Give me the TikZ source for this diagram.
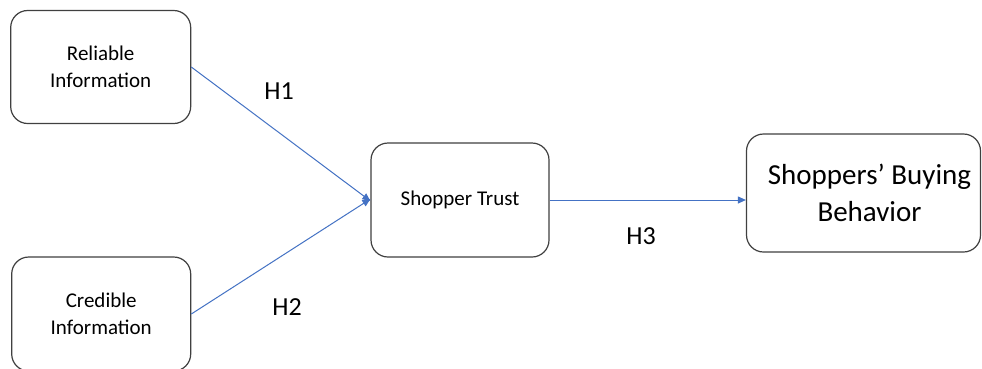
\documentclass[tikz,border=0pt]{standalone}
\usepackage{fontspec}
\setmainfont{Carlito}
\usetikzlibrary{arrows.meta}
\definecolor{arrowblue}{HTML}{4472C4}
\definecolor{boxline}{HTML}{404040}
\tikzset{
  box/.style={draw=boxline, line width=1.2pt, rounded corners=17pt, inner sep=0pt,
    align=center, fill=white},
  smalltext/.style={font=\fontsize{21}{26.5}\selectfont},
  bigtext/.style={font=\fontsize{29}{37}\selectfont},
  hlabel/.style={font=\fontsize{26}{30}\selectfont, inner sep=0pt},
  link/.style={draw=arrowblue, line width=1pt, -{Triangle[length=8pt,width=7pt]}}
}
\begin{document}
\begin{tikzpicture}[x=1pt,y=-1pt]
\useasboundingbox (0,0) rectangle (982,368);
\clip (0,0) rectangle (982,368);
\fill[white] (0,0) rectangle (982,368);
\node[box, smalltext, minimum width=180pt, minimum height=113pt] (rel) at (100.7,67) {Reliable\\Information};
\node[box, smalltext, minimum width=179pt, minimum height=114pt] (cred) at (101.2,314) {Credible\\Information};
\node[box, smalltext, minimum width=178pt, minimum height=114pt] (trust) at (460,200) {Shopper Trust};
\node[box, bigtext, minimum width=234pt, minimum height=118pt] (buy) at (863.5,193) {\hspace*{12pt}Shoppers’ Buying\\\hspace*{12pt}Behavior};
\draw[link] (rel.east) -- ([yshift=-1pt]trust.west);
\draw[link] (cred.east) -- ([yshift=1pt]trust.west);
\draw[link] (trust.east) -- (trust.east -| buy.west);
\node[hlabel] (h1) at (279,91.5) {H1};
\node[hlabel] (h2) at (287,307) {H2};
\node[hlabel] (h3) at (641,236) {H3};
\end{tikzpicture}
\end{document}
